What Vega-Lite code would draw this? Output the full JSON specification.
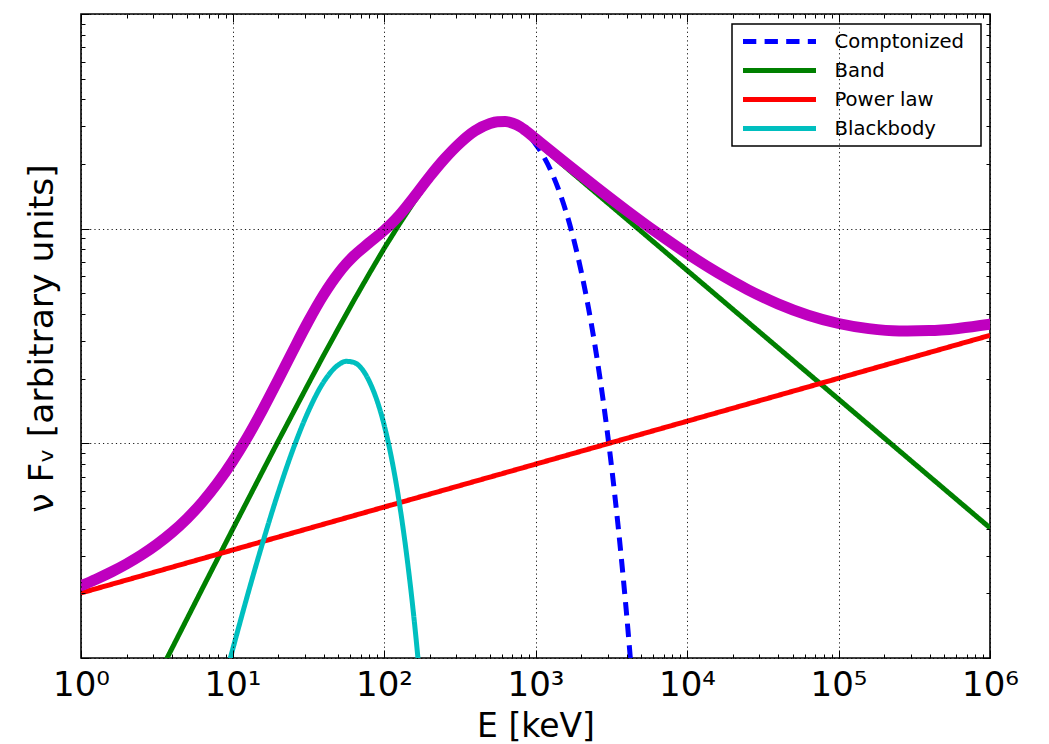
{
  "$schema": "https://vega.github.io/schema/vega-lite/v6.json",
  "width": 909,
  "height": 644,
  "autosize": {"type": "none"},
  "padding": {"left": 81, "top": 14, "right": 59, "bottom": 86},
  "background": "#ffffff",
  "config": {
    "font": "DejaVu Sans",
    "view": {"stroke": "#000000", "strokeWidth": 1.6},
    "axis": {"domain": false}
  },
  "datasets": {
    "curves": [
      {"series": "Comptonized", "E": 398.1, "flux": 2.786},
      {"series": "Comptonized", "E": 501.2, "flux": 3.020},
      {"series": "Comptonized", "E": 562.3, "flux": 3.077},
      {"series": "Comptonized", "E": 631.0, "flux": 3.083},
      {"series": "Comptonized", "E": 707.9, "flux": 3.025},
      {"series": "Comptonized", "E": 794.3, "flux": 2.904},
      {"series": "Comptonized", "E": 857.0, "flux": 2.793},
      {"series": "Comptonized", "E": 1000, "flux": 2.482},
      {"series": "Comptonized", "E": 1122, "flux": 2.193},
      {"series": "Comptonized", "E": 1259, "flux": 1.872},
      {"series": "Comptonized", "E": 1413, "flux": 1.535},
      {"series": "Comptonized", "E": 1585, "flux": 1.208},
      {"series": "Comptonized", "E": 1778, "flux": 0.9044},
      {"series": "Comptonized", "E": 1995, "flux": 0.6399},
      {"series": "Comptonized", "E": 2239, "flux": 0.4259},
      {"series": "Comptonized", "E": 2512, "flux": 0.2647},
      {"series": "Comptonized", "E": 2818, "flux": 0.1522},
      {"series": "Comptonized", "E": 3162, "flux": 0.08012},
      {"series": "Comptonized", "E": 3548, "flux": 0.03825},
      {"series": "Comptonized", "E": 3981, "flux": 0.01637},
      {"series": "Comptonized", "E": 4467, "flux": 0.006186},

      {"series": "Band", "E": 3.162, "flux": 0.008035},
      {"series": "Band", "E": 3.981, "flux": 0.01107},
      {"series": "Band", "E": 5.012, "flux": 0.01524},
      {"series": "Band", "E": 6.310, "flux": 0.02099},
      {"series": "Band", "E": 7.943, "flux": 0.02884},
      {"series": "Band", "E": 10, "flux": 0.03963},
      {"series": "Band", "E": 12.59, "flux": 0.05433},
      {"series": "Band", "E": 15.85, "flux": 0.07447},
      {"series": "Band", "E": 19.95, "flux": 0.1019},
      {"series": "Band", "E": 25.12, "flux": 0.1387},
      {"series": "Band", "E": 31.62, "flux": 0.1888},
      {"series": "Band", "E": 39.81, "flux": 0.2559},
      {"series": "Band", "E": 50.12, "flux": 0.3444},
      {"series": "Band", "E": 63.10, "flux": 0.4613},
      {"series": "Band", "E": 79.43, "flux": 0.6124},
      {"series": "Band", "E": 100, "flux": 0.8072},
      {"series": "Band", "E": 125.9, "flux": 1.047},
      {"series": "Band", "E": 158.5, "flux": 1.340},
      {"series": "Band", "E": 199.5, "flux": 1.683},
      {"series": "Band", "E": 251.2, "flux": 2.056},
      {"series": "Band", "E": 316.2, "flux": 2.438},
      {"series": "Band", "E": 398.1, "flux": 2.786},
      {"series": "Band", "E": 501.2, "flux": 3.020},
      {"series": "Band", "E": 562.3, "flux": 3.077},
      {"series": "Band", "E": 631.0, "flux": 3.083},
      {"series": "Band", "E": 707.9, "flux": 3.025},
      {"series": "Band", "E": 794.3, "flux": 2.904},
      {"series": "Band", "E": 857.0, "flux": 2.793},
      {"series": "Band", "E": 1000000, "flux": 0.04037},

      {"series": "Power law", "E": 1, "flux": 0.02009},
      {"series": "Power law", "E": 1000, "flux": 0.07998},
      {"series": "Power law", "E": 1000000, "flux": 0.3184},

      {"series": "Blackbody", "E": 7.943, "flux": 0.005902},
      {"series": "Blackbody", "E": 10, "flux": 0.01089},
      {"series": "Blackbody", "E": 12.59, "flux": 0.01972},
      {"series": "Blackbody", "E": 15.85, "flux": 0.03459},
      {"series": "Blackbody", "E": 19.95, "flux": 0.05848},
      {"series": "Blackbody", "E": 25.12, "flux": 0.09397},
      {"series": "Blackbody", "E": 31.62, "flux": 0.1406},
      {"series": "Blackbody", "E": 39.81, "flux": 0.1923},
      {"series": "Blackbody", "E": 50.12, "flux": 0.2323},
      {"series": "Blackbody", "E": 56.23, "flux": 0.2410},
      {"series": "Blackbody", "E": 63.10, "flux": 0.2382},
      {"series": "Blackbody", "E": 79.43, "flux": 0.1963},
      {"series": "Blackbody", "E": 100, "flux": 0.1225},
      {"series": "Blackbody", "E": 112.2, "flux": 0.08511},
      {"series": "Blackbody", "E": 125.9, "flux": 0.05346},
      {"series": "Blackbody", "E": 141.3, "flux": 0.02999},
      {"series": "Blackbody", "E": 158.5, "flux": 0.01483},
      {"series": "Blackbody", "E": 177.8, "flux": 0.006353},

      {"series": "Total", "E": 1, "flux": 0.02172},
      {"series": "Total", "E": 1.259, "flux": 0.02329},
      {"series": "Total", "E": 1.585, "flux": 0.02515},
      {"series": "Total", "E": 1.995, "flux": 0.02741},
      {"series": "Total", "E": 2.512, "flux": 0.03020},
      {"series": "Total", "E": 3.162, "flux": 0.03377},
      {"series": "Total", "E": 3.981, "flux": 0.03841},
      {"series": "Total", "E": 5.012, "flux": 0.04462},
      {"series": "Total", "E": 6.310, "flux": 0.05316},
      {"series": "Total", "E": 7.943, "flux": 0.06515},
      {"series": "Total", "E": 10, "flux": 0.08236},
      {"series": "Total", "E": 12.59, "flux": 0.1074},
      {"series": "Total", "E": 15.85, "flux": 0.1440},
      {"series": "Total", "E": 19.95, "flux": 0.1969},
      {"series": "Total", "E": 25.12, "flux": 0.2709},
      {"series": "Total", "E": 31.62, "flux": 0.3695},
      {"series": "Total", "E": 39.81, "flux": 0.4901},
      {"series": "Total", "E": 50.12, "flux": 0.6206},
      {"series": "Total", "E": 56.23, "flux": 0.6850},
      {"series": "Total", "E": 63.10, "flux": 0.7456},
      {"series": "Total", "E": 79.43, "flux": 0.8569},
      {"series": "Total", "E": 100, "flux": 0.9802},
      {"series": "Total", "E": 112.2, "flux": 1.058},
      {"series": "Total", "E": 125.9, "flux": 1.153},
      {"series": "Total", "E": 158.5, "flux": 1.410},
      {"series": "Total", "E": 199.5, "flux": 1.743},
      {"series": "Total", "E": 251.2, "flux": 2.117},
      {"series": "Total", "E": 316.2, "flux": 2.501},
      {"series": "Total", "E": 398.1, "flux": 2.853},
      {"series": "Total", "E": 501.2, "flux": 3.090},
      {"series": "Total", "E": 562.3, "flux": 3.148},
      {"series": "Total", "E": 631.0, "flux": 3.156},
      {"series": "Total", "E": 707.9, "flux": 3.099},
      {"series": "Total", "E": 794.3, "flux": 2.980},
      {"series": "Total", "E": 857.0, "flux": 2.870},
      {"series": "Total", "E": 1000, "flux": 2.627},
      {"series": "Total", "E": 1585, "flux": 2.020},
      {"series": "Total", "E": 2512, "flux": 1.562},
      {"series": "Total", "E": 3981, "flux": 1.217},
      {"series": "Total", "E": 6310, "flux": 0.9589},
      {"series": "Total", "E": 10000, "flux": 0.7665},
      {"series": "Total", "E": 15850, "flux": 0.6243},
      {"series": "Total", "E": 25120, "flux": 0.5205},
      {"series": "Total", "E": 39810, "flux": 0.4464},
      {"series": "Total", "E": 63100, "flux": 0.3951},
      {"series": "Total", "E": 100000, "flux": 0.3616},
      {"series": "Total", "E": 158500, "flux": 0.3422},
      {"series": "Total", "E": 251200, "flux": 0.3340},
      {"series": "Total", "E": 398100, "flux": 0.3350},
      {"series": "Total", "E": 631000, "flux": 0.3436},
      {"series": "Total", "E": 1000000, "flux": 0.3588}
    ]
  },
  "data": {"name": "curves"},
  "layer": [
    {
      "encoding": {
        "x": {
          "field": "E", "type": "quantitative",
          "scale": {"type": "log", "domain": [1, 1000000], "nice": false},
          "axis": {
            "orient": "bottom", "zindex": 1,
            "values": [1,2,3,4,5,6,7,8,9,10,20,30,40,50,60,70,80,90,100,200,300,400,500,600,700,800,900,1000,2000,3000,4000,5000,6000,7000,8000,9000,10000,20000,30000,40000,50000,60000,70000,80000,90000,100000,200000,300000,400000,500000,600000,700000,800000,900000,1000000],
            "grid": true, "gridColor": "#000000", "gridWidth": 0.9, "gridDash": [1.2, 3.1],
            "gridOpacity": {"condition": {"test": "abs(log(datum.value)/LN10 - round(log(datum.value)/LN10)) < 0.001", "value": 1}, "value": 0},
            "ticks": true, "tickSize": -8, "tickColor": "#000000", "tickWidth": 1,
            "tickDash": {"condition": {"test": "abs(log(datum.value)/LN10 - round(log(datum.value)/LN10)) < 0.001", "value": [8, 0]}, "value": [4, 20]},
            "labelExpr": "abs(log(datum.value)/LN10 - round(log(datum.value)/LN10)) < 0.001 ? '10' + ['⁰','¹','²','³','⁴','⁵','⁶'][round(log(datum.value)/LN10)] : ''",
            "labelFont": "DejaVu Sans", "labelFontSize": 34, "labelColor": "#000000",
            "labelBaseline": "alphabetic", "labelAlign": "center", "labelPadding": 45.7,
            "labelFlush": false, "labelOverlap": false, "labelBound": false,
            "title": "E [keV]", "titleFont": "DejaVu Sans", "titleFontSize": 33, "titleFontWeight": "normal",
            "titleColor": "#000000", "titleBaseline": "alphabetic", "titleAlign": "center",
            "titleX": 454.5, "titleY": 78
          }
        },
        "y": {
          "field": "flux", "type": "quantitative",
          "scale": {"type": "log", "domain": [0.01, 10], "nice": false},
          "axis": {
            "orient": "left", "zindex": 1,
            "values": [0.01,0.02,0.03,0.04,0.05,0.06,0.07,0.08,0.09,0.1,0.2,0.3,0.4,0.5,0.6,0.7,0.8,0.9,1,2,3,4,5,6,7,8,9,10],
            "grid": true, "gridColor": "#000000", "gridWidth": 0.9, "gridDash": [1.2, 3.1],
            "gridOpacity": {"condition": {"test": "abs(log(datum.value)/LN10 - round(log(datum.value)/LN10)) < 0.001", "value": 1}, "value": 0},
            "ticks": true, "tickSize": -8, "tickColor": "#000000", "tickWidth": 1,
            "tickDash": {"condition": {"test": "abs(log(datum.value)/LN10 - round(log(datum.value)/LN10)) < 0.001", "value": [8, 0]}, "value": [4, 20]},
            "labels": false,
            "title": "ν Fᵥ [arbitrary units]", "titleFont": "DejaVu Sans", "titleFontSize": 34.5, "titleFontWeight": "normal",
            "titleColor": "#000000", "titleBaseline": "alphabetic", "titleAlign": "center", "titleAngle": 270,
            "titleX": -28.7, "titleY": 324
          }
        },
        "color": {
          "field": "series", "type": "nominal",
          "scale": {"domain": ["Comptonized", "Band", "Power law", "Blackbody"], "range": ["#0000ff", "#008000", "#ff0000", "#00bfbf"]},
          "legend": {
            "title": "\u00a0", "titleOrient": "right", "titlePadding": 14, "titleFontSize": 19.6,
            "orient": "none", "legendX": 651, "legendY": 10,
            "symbolType": "M-3.5,0H3.5", "symbolSize": 435, "symbolStrokeWidth": 5,
            "symbolOffset": 31.5, "labelOffset": 42, "clipHeight": 29, "rowPadding": 0, "padding": 3,
            "labelFont": "DejaVu Sans", "labelFontSize": 19.6, "labelColor": "#000000", "labelBaseline": "middle",
            "strokeColor": "#000000", "fillColor": "#ffffff", "cornerRadius": 0,
            "encode": {"legend": {"update": {"strokeWidth": {"value": 1.5}}}}
          }
        },
        "strokeDash": {
          "field": "series", "type": "nominal",
          "scale": {"domain": ["Comptonized", "Band", "Power law", "Blackbody"], "range": [[13.3, 8.3], [1, 0], [1, 0], [1, 0]]},
          "legend": {
            "title": "\u00a0", "titleOrient": "right", "titlePadding": 14, "titleFontSize": 19.6,
            "orient": "none", "legendX": 651, "legendY": 10,
            "symbolType": "M-3.5,0H3.5", "symbolSize": 435, "symbolStrokeWidth": 5,
            "symbolOffset": 31.5, "labelOffset": 42, "clipHeight": 29, "rowPadding": 0, "padding": 3,
            "labelFont": "DejaVu Sans", "labelFontSize": 19.6, "labelColor": "#000000", "labelBaseline": "middle",
            "strokeColor": "#000000", "fillColor": "#ffffff", "cornerRadius": 0,
            "encode": {"legend": {"update": {"strokeWidth": {"value": 1.5}}}}
          }
        }
      },
      "layer": [
        {
          "transform": [{"filter": "datum.series === 'Comptonized'"}],
          "mark": {"type": "line", "clip": true, "strokeWidth": 5, "interpolate": "monotone", "strokeCap": "butt"}
        },
        {
          "transform": [{"filter": "datum.series === 'Band'"}],
          "mark": {"type": "line", "clip": true, "strokeWidth": 5, "interpolate": "linear"}
        },
        {
          "transform": [{"filter": "datum.series === 'Power law'"}],
          "mark": {"type": "line", "clip": true, "strokeWidth": 5, "interpolate": "linear"}
        },
        {
          "transform": [{"filter": "datum.series === 'Blackbody'"}],
          "mark": {"type": "line", "clip": true, "strokeWidth": 5, "interpolate": "monotone"}
        }
      ]
    },
    {
      "transform": [{"filter": "datum.series === 'Total'"}],
      "mark": {"type": "line", "clip": true, "strokeWidth": 11, "interpolate": "monotone", "color": "#bf00bf", "strokeJoin": "round", "strokeCap": "round"},
      "encoding": {
        "x": {
          "field": "E", "type": "quantitative",
          "scale": {"type": "log", "domain": [1, 1000000], "nice": false},
          "axis": {
            "orient": "top", "zindex": 1,
            "values": [1,2,3,4,5,6,7,8,9,10,20,30,40,50,60,70,80,90,100,200,300,400,500,600,700,800,900,1000,2000,3000,4000,5000,6000,7000,8000,9000,10000,20000,30000,40000,50000,60000,70000,80000,90000,100000,200000,300000,400000,500000,600000,700000,800000,900000,1000000],
            "grid": false, "labels": false, "title": null,
            "ticks": true, "tickSize": -8, "tickColor": "#000000", "tickWidth": 1,
            "tickDash": {"condition": {"test": "abs(log(datum.value)/LN10 - round(log(datum.value)/LN10)) < 0.001", "value": [8, 0]}, "value": [4, 20]}
          }
        },
        "y": {
          "field": "flux", "type": "quantitative",
          "scale": {"type": "log", "domain": [0.01, 10], "nice": false},
          "axis": {
            "orient": "right", "zindex": 1,
            "values": [0.01,0.02,0.03,0.04,0.05,0.06,0.07,0.08,0.09,0.1,0.2,0.3,0.4,0.5,0.6,0.7,0.8,0.9,1,2,3,4,5,6,7,8,9,10],
            "grid": false, "labels": false, "title": null,
            "ticks": true, "tickSize": -8, "tickColor": "#000000", "tickWidth": 1,
            "tickDash": {"condition": {"test": "abs(log(datum.value)/LN10 - round(log(datum.value)/LN10)) < 0.001", "value": [8, 0]}, "value": [4, 20]}
          }
        }
      }
    }
  ],
  "resolve": {"axis": {"x": "independent", "y": "independent"}}
}
